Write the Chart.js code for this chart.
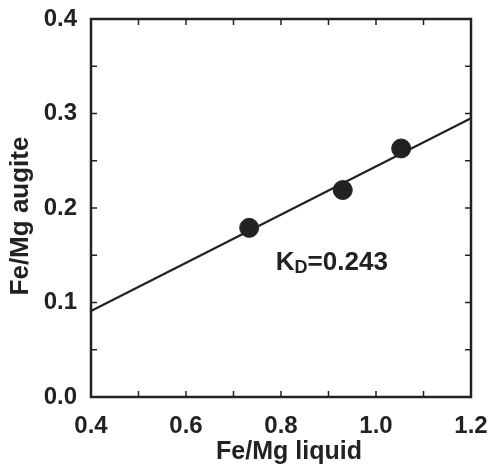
<!DOCTYPE html>
<html>
<head>
<meta charset="utf-8">
<script src="https://cdn.jsdelivr.net/npm/chart.js@4.4.0/dist/chart.umd.min.js"></script>
<style>
  html, body { margin: 0; padding: 0; background: #fff; }
  canvas { display: block; }
</style>
</head>
<body>
<canvas id="myChart" width="490" height="468"></canvas>
<script>
// measured points (Fe/Mg liquid vs Fe/Mg augite)
const liquid = [0.733, 0.93, 1.053];
const augite = [0.179, 0.219, 0.263];

// fitted KD line, end points
const lineX = [0.4, 1.2];
const lineY = [0.091, 0.295];

// tick labels
const xTicks = ['0.4', '0.6', '0.8', '1.0', '1.2'];
const yTicks = ['0.0', '0.1', '0.2', '0.3', '0.4'];

// KD label position in data units
const kdLabelX = [0.907];
const kdLabelY = [0.143];

const ink = '#222';
const fontFamily = '"Liberation Sans", Arial, Helvetica, sans-serif';

// frame + inward ticks on all four sides, axis titles, KD text
const framePlugin = {
    id: 'frame',
    afterDatasetsDraw(chart) {
        const ctx = chart.ctx;
        const a = chart.chartArea;
        const xs = chart.scales.x;
        const ys = chart.scales.y;
        ctx.save();
        ctx.strokeStyle = ink;
        ctx.lineWidth = 2.5;
        ctx.strokeRect(a.left, a.top, a.right - a.left, a.bottom - a.top);
        ctx.lineWidth = 1.5;
        const len = 6;
        for (let v = 0.5; v < 1.2; v += 0.1) {
            const px = xs.getPixelForValue(v);
            ctx.beginPath();
            ctx.moveTo(px, a.bottom); ctx.lineTo(px, a.bottom - len);
            ctx.moveTo(px, a.top); ctx.lineTo(px, a.top + len);
            ctx.stroke();
        }
        for (let v = 0.05; v < 0.4; v += 0.05) {
            const py = ys.getPixelForValue(v);
            ctx.beginPath();
            ctx.moveTo(a.left, py); ctx.lineTo(a.left + len, py);
            ctx.moveTo(a.right, py); ctx.lineTo(a.right - len, py);
            ctx.stroke();
        }

        ctx.fillStyle = ink;
        ctx.textBaseline = 'alphabetic';

        // axis titles (sit a little off the plot centre in the original)
        ctx.font = 'bold 25px ' + fontFamily;
        ctx.textAlign = 'center';
        ctx.fillText('Fe/Mg liquid', (a.left + a.right) / 2 + 8, 459);
        ctx.save();
        ctx.translate(28, (a.top + a.bottom) / 2 + 8);
        ctx.rotate(-Math.PI / 2);
        ctx.font = 'bold 26px ' + fontFamily;
        ctx.fillText('Fe/Mg augite', 0, 0);
        ctx.restore();

        // KD label
        const tx = xs.getPixelForValue(kdLabelX[0]);
        const ty = ys.getPixelForValue(kdLabelY[0]);
        const big = 'bold 26px ' + fontFamily;
        const small = 'bold 18px ' + fontFamily;
        ctx.font = big;
        const wK = ctx.measureText('K').width;
        const wRest = ctx.measureText('=0.243').width;
        ctx.font = small;
        const wD = ctx.measureText('D').width;
        let x0 = tx - (wK + wD + wRest) / 2;
        const base = ty + 8;
        ctx.textAlign = 'left';
        ctx.font = big;
        ctx.fillText('K', x0, base);
        ctx.font = small;
        ctx.fillText('D', x0 + wK, base + 3);
        ctx.font = big;
        ctx.fillText('=0.243', x0 + wK + wD, base);
        ctx.restore();
    }
};

const ctx = document.getElementById('myChart').getContext('2d');
const myChart = new Chart(ctx, {
    type: 'scatter',
    data: {
        datasets: [
            {
                label: 'KD line',
                data: lineX.map((x, i) => ({ x: x, y: lineY[i] })),
                showLine: true,
                borderColor: ink,
                borderWidth: 2.2,
                pointRadius: 0,
                order: 1,
            },
            {
                label: 'augite',
                data: liquid.map((x, i) => ({ x: x, y: augite[i] })),
                backgroundColor: ink,
                borderColor: ink,
                pointRadius: 9.5,
                order: 0,
            },
        ]
    },
    options: {
        responsive: false,
        animation: false,
        layout: { autoPadding: false, padding: { top: 19, right: 19, left: 0, bottom: 0 } },
        plugins: {
            legend: { display: false },
            tooltip: { enabled: false },
        },
        scales: {
            x: {
                type: 'linear',
                min: 0.4,
                max: 1.2,
                afterFit: s => {
                    s.height = 71;
                    s.paddingLeft = 0; s.paddingRight = 0;
                },
                afterBuildTicks: s => { s.ticks = xTicks.map(t => ({ value: parseFloat(t) })); },
                grid: { display: false, drawTicks: false },
                border: { display: false },
                ticks: {
                    color: ink,
                    padding: 15,
                    maxRotation: 0,
                    font: { family: fontFamily, size: 24, weight: 'bold' },
                    callback: (v, i) => xTicks[i],
                },
            },
            y: {
                type: 'linear',
                min: 0,
                max: 0.4,
                afterFit: s => {
                    s.width = 91;
                    s.paddingTop = 0; s.paddingBottom = 0;
                },
                afterBuildTicks: s => { s.ticks = yTicks.map(t => ({ value: parseFloat(t) })); },
                grid: { display: false, drawTicks: false },
                border: { display: false },
                ticks: {
                    color: ink,
                    padding: 14,
                    font: { family: fontFamily, size: 24, weight: 'bold' },
                    callback: (v, i) => yTicks[i],
                },
            },
        }
    },
    plugins: [framePlugin]
});
</script>
</body>
</html>
